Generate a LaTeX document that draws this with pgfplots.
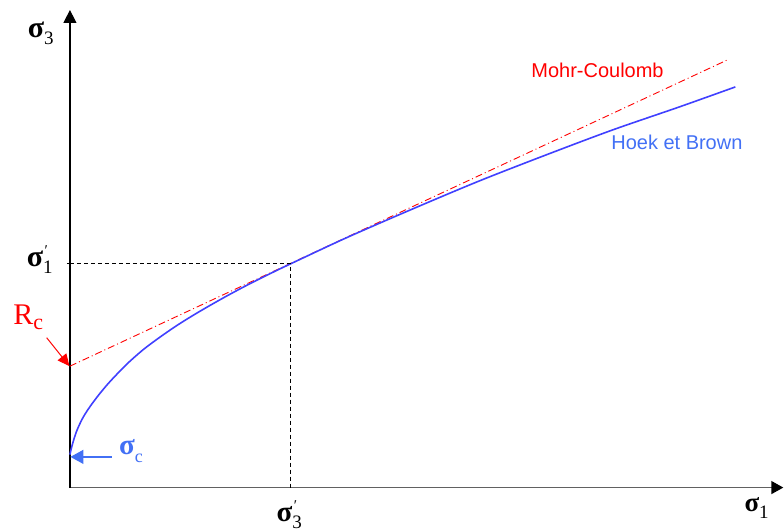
\documentclass[border=0pt]{standalone}
\usepackage{pgfplots}
\pgfplotsset{compat=1.18}
\usetikzlibrary{arrows.meta}
\usepackage{fontspec}
\setmainfont{Liberation Serif}
\newfontfamily\arial{Liberation Sans}

\definecolor{mcred}{RGB}{255,0,0}
\definecolor{hbblue}{RGB}{64,64,255}
\definecolor{lblblue}{RGB}{66,112,245}

% sigma with subscript #2 and optional prime #3
\newcommand{\sig}[3][30]{\fontsize{#1}{#1}\selectfont\bfseries σ\mdseries\rlap{\hspace{1.5pt}\raisebox{11pt}{\fontsize{15}{15}\selectfont #3}}\raisebox{-7pt}{\fontsize{19}{19}\selectfont #2}}

% Hoek-Brown curve (pixel offsets from the origin)
\pgfplotstableread{
x y
0 33
1 37.5
2 41.5
4 48.5
6.7 56.5
10 64
13.3 70.5
18 78
23.3 85.5
30 94.2
40 106
56.7 123.3
73.3 138
90 150.5
106.7 162
123.3 172.4
140 182.2
156.7 191.6
173.3 200.5
190 209
206.7 217.2
221 224
276.7 250
343.3 279
410 307
476.7 333
543.3 358
610 381
666 401
}\hoekbrown

\begin{document}
\begin{tikzpicture}
\begin{axis}[
    scale only axis,
    width=714pt, height=478pt,
    xmin=0, xmax=714,
    ymin=0, ymax=478,
    axis lines=left,
    clip=false,
    xtick=\empty,
    ytick={224}, yticklabels={},
    major tick length=6pt,
    tick align=center,
    tick style={black, line width=1pt},
    x axis line style={draw=black!62, line width=1.4pt,
        -{Triangle[length=12pt,width=13pt,color=black]}},
    y axis line style={draw=black, line width=1.2pt,
        -{Triangle[length=13pt,width=13pt]}},
]
    % Mohr-Coulomb straight line
    \addplot[mcred, line width=0.9pt, dash pattern=on 7pt off 3pt on 1pt off 3pt]
        coordinates {(0,121.5) (658,428)};
    % Hoek et Brown
    \addplot[hbblue, line width=1.6pt, smooth] table {\hoekbrown};
    % tangency guide lines
    \addplot[black, line width=0.9pt, dash pattern=on 4pt off 3pt]
        coordinates {(0,224) (221,224) (221,0)};

    % arrows to the intercepts
    \draw[mcred, line width=1pt, -{Triangle[length=12pt,width=11pt]}]
        (axis cs:-23.3,150) -- (axis cs:-0.5,121.5);
    \draw[lblblue, line width=1.3pt, -{Triangle[length=13pt,width=14pt]}]
        (axis cs:42,30.7) -- (axis cs:0.5,30.7);

    % labels
    \node[anchor=base west, inner sep=0] at (axis cs:-42.3,450) {\sig{3}{}};
    \node[anchor=base west, inner sep=0] at (axis cs:-43.3,221) {\sig{1}{′}};
    \node[anchor=base west, inner sep=0] at (axis cs:206.7,-34) {\sig[29]{3}{′}};
    \node[anchor=base west, inner sep=0] at (axis cs:675,-24) {\sig[27]{1}{}};
    \node[anchor=base west, inner sep=0, text=mcred] at (axis cs:-56.7,163)
        {\fontsize{30}{30}\selectfont R\raisebox{-5pt}{\fontsize{22}{22}\selectfont c}};
    \node[anchor=base west, inner sep=0, text=lblblue] at (axis cs:49,33)
        {\fontsize{29}{29}\selectfont\bfseries σ\mdseries\raisebox{-8pt}{\fontsize{18}{18}\selectfont c}};
    \node[anchor=base west, inner sep=0, text=mcred] at (axis cs:461.7,410.3)
        {\arial\fontsize{20}{20}\selectfont Mohr-Coulomb};
    \node[anchor=base west, inner sep=0, text=lblblue] at (axis cs:541.7,338)
        {\arial\fontsize{20}{20}\selectfont Hoek et Brown};

    % page frame, same size as the reference
    \path (axis cs:-70,-41) rectangle (axis cs:714,488);
\end{axis}
\end{tikzpicture}
\end{document}
